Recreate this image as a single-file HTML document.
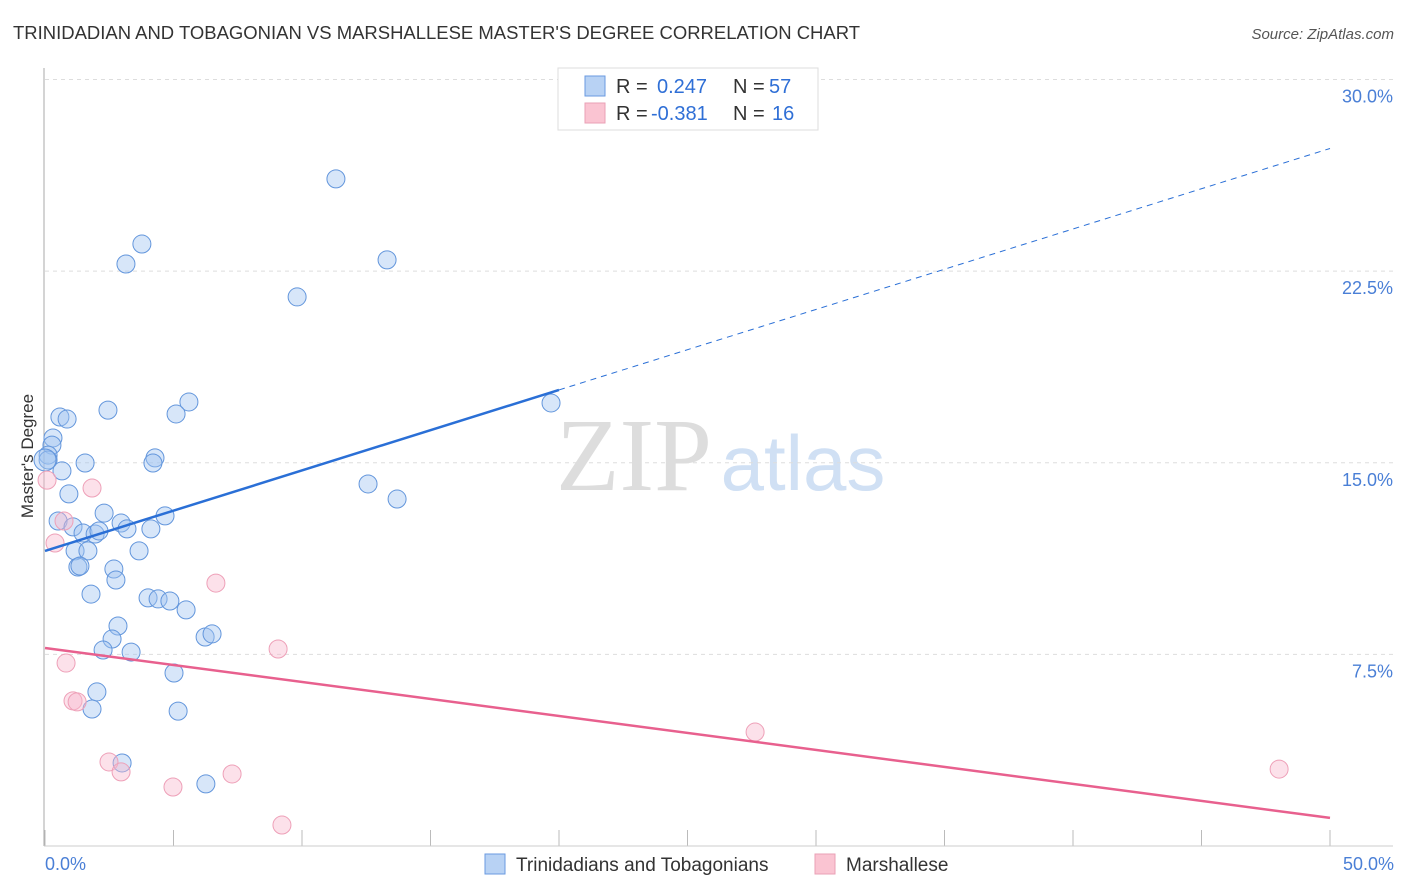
<!DOCTYPE html>
<html><head><meta charset="utf-8"><style>
body{margin:0;background:#fff;font-family:"Liberation Sans",sans-serif}
</style></head><body>
<svg id="c" width="1406" height="892" style="display:block">
<text x="13" y="39" font-size="18" fill="#333" textLength="847" lengthAdjust="spacingAndGlyphs">TRINIDADIAN AND TOBAGONIAN VS MARSHALLESE MASTER'S DEGREE CORRELATION CHART</text>
<text x="1394" y="39" font-size="15" fill="#555" font-style="italic" text-anchor="end">Source: ZipAtlas.com</text>
<g><text x="634" y="490" font-size="104" fill="#ddd" font-family="Liberation Serif,serif" text-anchor="middle">ZIP</text><text x="803" y="490" font-size="78" fill="#d0e0f4" text-anchor="middle">atlas</text></g>
<g id="grid"></g>
<line x1="44" y1="68" x2="44" y2="846" stroke="#aaa"/>
<line x1="44" y1="846" x2="1393" y2="846" stroke="#ccc"/>
<text x="33" y="456" font-size="17" fill="#333" text-anchor="middle" transform="rotate(-90 33 456)">Master's Degree</text>
<text x="45" y="870" font-size="18" fill="#4a7fd6">0.0%</text>
<text x="1394" y="870" font-size="18" fill="#4a7fd6" text-anchor="end">50.0%</text>
<g id="marks"></g>
<g font-size="20">
<rect x="558" y="68" width="260" height="62" fill="#fff" stroke="#ddd"/>
<rect x="585" y="76" width="20" height="20" fill="#b8d2f4" stroke="#6a9ae0"/>
<rect x="585" y="103" width="20" height="20" fill="#fac4d2" stroke="#eaa0b6"/>
<text x="616" y="93" fill="#333">R =</text><text x="657" y="93" fill="#2f6fd6">0.247</text>
<text x="733" y="93" fill="#333">N =</text><text x="769" y="93" fill="#2f6fd6">57</text>
<text x="616" y="120" fill="#333">R =</text><text x="651" y="120" fill="#2f6fd6">-0.381</text>
<text x="733" y="120" fill="#333">N =</text><text x="772" y="120" fill="#2f6fd6">16</text>
</g>
<g>
<rect x="485" y="854" width="20" height="20" fill="#b8d2f4" stroke="#6a9ae0"/>
<text x="516" y="871" font-size="19" fill="#333">Trinidadians and Tobagonians</text>
<rect x="815" y="854" width="20" height="20" fill="#fac4d2" stroke="#eaa0b6"/>
<text x="846" y="871" font-size="19" fill="#333">Marshallese</text>
</g>
</svg>
<script>
const yTicks=[7.5,15,22.5,30];
const yTickLabels=["7.5%","15.0%","22.5%","30.0%"];
const xTicks=[0,5,10,15,20,25,30,35,40,45,50];
const blueX=[11.32,3.77,3.15,13.31,9.81,19.69,5.60,2.45,5.10,0.58,0.86,0.31,0.27,0.12,0.12,0.66,1.56,4.28,4.20,0.93,12.57,13.70,2.30,0.51,2.96,1.09,1.48,1.95,2.10,3.19,4.67,4.12,3.66,1.17,1.67,1.28,1.36,2.68,2.76,1.79,4.01,4.40,4.86,5.49,2.84,2.61,6.23,6.50,2.26,3.35,5.02,2.02,1.83,5.18,3.00,6.26,0.0];
const blueY=[26.11,23.56,22.78,22.94,21.49,17.34,17.38,17.06,16.91,16.79,16.71,15.97,15.69,15.30,15.11,14.68,14.99,15.19,14.99,13.78,14.17,13.58,13.03,12.72,12.64,12.49,12.25,12.21,12.33,12.41,12.92,12.41,11.55,11.55,11.55,10.92,10.96,10.84,10.41,9.86,9.71,9.67,9.59,9.24,8.61,8.10,8.18,8.30,7.67,7.59,6.77,6.03,5.36,5.28,3.25,2.43,15.11];
const pinkX=[0.08,1.83,0.74,0.39,6.65,9.07,0.82,1.09,1.25,2.49,2.96,4.98,7.28,9.22,27.63,48.02];
const pinkY=[14.32,14.01,12.72,11.86,10.29,7.71,7.16,5.68,5.64,3.29,2.90,2.31,2.82,0.82,4.46,3.01];
const blueTrend=[11.55,0.315];
const pinkTrend=[7.75,-0.133];
const sx=v=>45+v*25.7, sy=v=>846-v*25.55;
const NS="http://www.w3.org/2000/svg";
function mk(tag,attrs,parent){const e=document.createElementNS(NS,tag);for(const k in attrs)e.setAttribute(k,attrs[k]);parent.appendChild(e);return e;}
const g=document.getElementById('grid'),m=document.getElementById('marks');
yTicks.forEach((t,i)=>{
 const l=mk('line',{x1:45,x2:1393,y1:sy(t),y2:sy(t),stroke:'#ddd','stroke-dasharray':'4,4'},g);
 
 
 const tx=mk('text',{x:1393,y:sy(t)+23,'font-size':18,fill:'#4a7fd6','text-anchor':'end'},g);
 tx.textContent=yTickLabels[i];
 
 
});
xTicks.forEach(t=>{
 const l=mk('line',{x1:sx(t),x2:sx(t),y1:830,y2:846,stroke:'#bbb'},g);
 
 
});
blueX.forEach((x,i)=>{
 const c=mk('circle',{cx:sx(x),cy:sy(blueY[i]),r:(i==blueX.length-1?11:9),fill:'rgba(160,196,240,0.42)',stroke:'#6396dc','stroke-width':1},m);
 
 
});
pinkX.forEach((x,i)=>{
 const c=mk('circle',{cx:sx(x),cy:sy(pinkY[i]),r:9,fill:'rgba(248,184,204,0.42)',stroke:'#eea0b8','stroke-width':1},m);
 
 
});
const bl=mk('line',{x1:sx(0),y1:sy(blueTrend[0]),x2:sx(20),y2:sy(blueTrend[0]+20*blueTrend[1]),stroke:'#2a6fd6','stroke-width':2.5},m);


const bd=mk('line',{x1:sx(20),y1:sy(blueTrend[0]+20*blueTrend[1]),x2:sx(50),y2:sy(blueTrend[0]+50*blueTrend[1]),stroke:'#2a6fd6','stroke-width':1,'stroke-dasharray':'6,5'},m);


const pl=mk('line',{x1:sx(0),y1:sy(pinkTrend[0]),x2:sx(50),y2:sy(pinkTrend[0]+50*pinkTrend[1]),stroke:'#e8608e','stroke-width':2.5},m);


</script>
</body></html>
